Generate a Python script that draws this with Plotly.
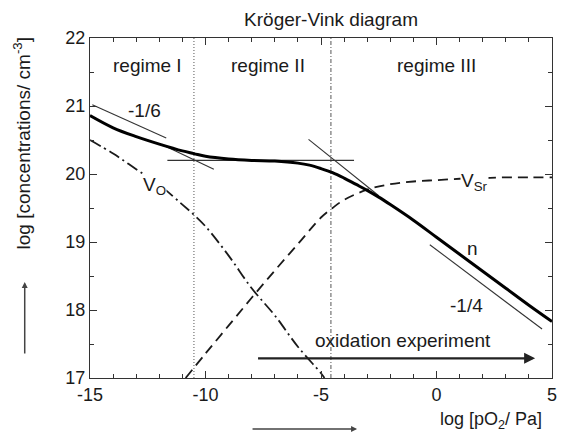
import plotly.graph_objects as go

# Electron concentration n (thick solid line)
n_x = [-15, -14, -13, -12, -11, -10.5, -10, -9, -8, -7, -6, -5.5, -5, -4.5, -4, -3.5, -3, -2.5, -2, -1, 0, 1, 2, 3, 4, 5]
n_y = [20.86, 20.68, 20.55, 20.44, 20.34, 20.30, 20.26, 20.22, 20.20, 20.19, 20.16, 20.13, 20.08, 20.02, 19.94,
       19.85, 19.76, 19.66, 19.55, 19.32, 19.07, 18.82, 18.57, 18.32, 18.07, 17.83]

# Oxygen vacancies V_O (dash-dot)
vo_x = [-15, -14, -13, -12, -11, -10.5, -10, -9, -8, -7, -6, -5, -4.85]
vo_y = [20.50, 20.30, 20.07, 19.84, 19.55, 19.40, 19.23, 18.80, 18.32, 17.92, 17.46, 17.07, 17.0]

# Strontium vacancies V_Sr (dashed)
vsr_x = [-10.86, -10, -9, -8, -7, -6, -5, -4.5, -4, -3, -2, -1, 0, 1, 2, 3, 4, 5]
vsr_y = [17.0, 17.36, 17.77, 18.18, 18.58, 18.97, 19.36, 19.50, 19.62, 19.77, 19.85, 19.89, 19.91, 19.93,
         19.94, 19.95, 19.95, 19.95]

# Slope guides and tangents: (x0, x1), (y0, y1)
guide_slope_16 = ([-14.9, -11.7], [21.02, 20.53])
tangent_regime1 = ([-11.8, -9.64], [20.42, 20.07])
tangent_plateau = ([-11.65, -3.57], [20.20, 20.20])
tangent_regime3 = ([-5.54, -2.5], [20.51, 19.68])
guide_slope_14 = ([-0.29, 4.57], [18.96, 17.72])

# Regime boundaries
boundaries = [-10.5, -4.57]

# Axes
x_range = [-15, 5]
y_range = [17, 22]
x_ticks = [-15, -10, -5, 0, 5]
x_ticktext = ["-15", "-10", "-5", "0", "5"]
y_ticks = [17, 18, 19, 20, 21, 22]

# Oxidation experiment arrow
oxid_x = [-7.79, 4.27]
oxid_y = 17.29

FONT = "Liberation Sans, Arial, sans-serif"
INK = "#1a1a1a"
TXT = 19

fig = go.Figure()

# Regime boundaries
fig.add_trace(go.Scatter(x=[boundaries[0]] * 2, y=y_range, mode="lines",
                         line=dict(color="#555", width=1, dash="1px,2px"), hoverinfo="skip"))
fig.add_trace(go.Scatter(x=[boundaries[1]] * 2, y=y_range, mode="lines",
                         line=dict(color="#555", width=1, dash="4px,2px,1px,2px"), hoverinfo="skip"))

# Thin guide lines
for gx, gy in [guide_slope_16, tangent_regime1, tangent_plateau, tangent_regime3, guide_slope_14]:
    fig.add_trace(go.Scatter(x=gx, y=gy, mode="lines",
                             line=dict(color="#333", width=1.1), hoverinfo="skip"))

# Defect curves
fig.add_trace(go.Scatter(x=vo_x, y=vo_y, mode="lines", line_shape="spline",
                         line=dict(color=INK, width=1.8, dash="12px,4px,2px,4px")))
fig.add_trace(go.Scatter(x=vsr_x, y=vsr_y, mode="lines", line_shape="spline",
                         line=dict(color=INK, width=1.8, dash="10px,6px")))
fig.add_trace(go.Scatter(x=n_x, y=n_y, mode="lines", line_shape="spline",
                         line=dict(color="#000", width=3)))

axis_common = dict(
    showline=True, linecolor="#333", linewidth=1.2, mirror="ticks",
    ticks="inside", ticklen=7, tickcolor="#333", tickwidth=1,
    showgrid=False, zeroline=False,
    tickfont=dict(family=FONT, size=18, color=INK),
)
fig.update_xaxes(range=x_range, tickvals=x_ticks, ticktext=x_ticktext, ticklabelstandoff=0,
                 ticklabeloverflow="allow",
                 minor=dict(dtick=1, ticks="inside", ticklen=4, tickcolor="#333"),
                 **axis_common)
fig.update_yaxes(range=y_range, tickvals=y_ticks,
                 minor=dict(dtick=0.5, ticks="inside", ticklen=4, tickcolor="#333"),
                 **axis_common)

def label(text, x, y, size=TXT, **kw):
    fig.add_annotation(text=text, x=x, y=y, xref="x", yref="y", showarrow=False,
                       xanchor="center", yanchor="middle",
                       font=dict(family=FONT, size=size, color=INK), **kw)

label("regime I", -12.5, 21.6)
label("regime II", -7.3, 21.6)
label("regime III", 0.0, 21.6)
label("-1/6", -12.64, 20.93)
label("V<sub>O</sub>", -12.2, 19.82, bgcolor="white", borderpad=0)
label("V<sub>Sr</sub>", 1.63, 19.88, bgcolor="white", borderpad=0)
label("n", 1.57, 18.9)
label("-1/4", 1.29, 18.07)
label("oxidation experiment", -1.43, 17.55)

# Oxidation experiment arrow
fig.add_annotation(x=oxid_x[1], y=oxid_y, ax=oxid_x[0], ay=oxid_y, xref="x", yref="y",
                   axref="x", ayref="y", text="", showarrow=True, arrowhead=2,
                   arrowsize=1, arrowwidth=2.2, arrowcolor="#222")

# Axis titles and direction arrows
fig.add_annotation(text="log [concentrations/ cm<sup>-3</sup>]", xref="paper", yref="paper",
                   x=-0.147, y=0.69, xanchor="center", yanchor="middle", textangle=-90,
                   showarrow=False, font=dict(family=FONT, size=19, color=INK))
fig.add_annotation(text="log [pO<sub>2</sub>/ Pa]", xref="paper", yref="paper",
                   x=0.868, y=-0.125, xanchor="center", yanchor="middle", showarrow=False,
                   font=dict(family=FONT, size=18, color=INK))
fig.add_annotation(x=-0.1413, y=0.282, xref="paper", yref="paper", ax=0, ay=73,
                   text="", showarrow=True, arrowhead=2, arrowsize=0.8,
                   arrowwidth=1.5, arrowcolor="#444")
fig.add_annotation(x=0.578, y=-0.15, xref="paper", yref="paper", ax=-106, ay=0,
                   text="", showarrow=True, arrowhead=2, arrowsize=0.8,
                   arrowwidth=1.5, arrowcolor="#444")

fig.update_layout(
    width=562, height=444,
    margin=dict(l=90, r=5, t=38, b=66),
    paper_bgcolor="white", plot_bgcolor="white",
    showlegend=False,
    title=dict(text="Kröger-Vink diagram", x=0.589, xanchor="center", y=0.957, yanchor="middle",
               font=dict(family=FONT, size=19, color=INK)),
)

fig.write_html("out.html")
